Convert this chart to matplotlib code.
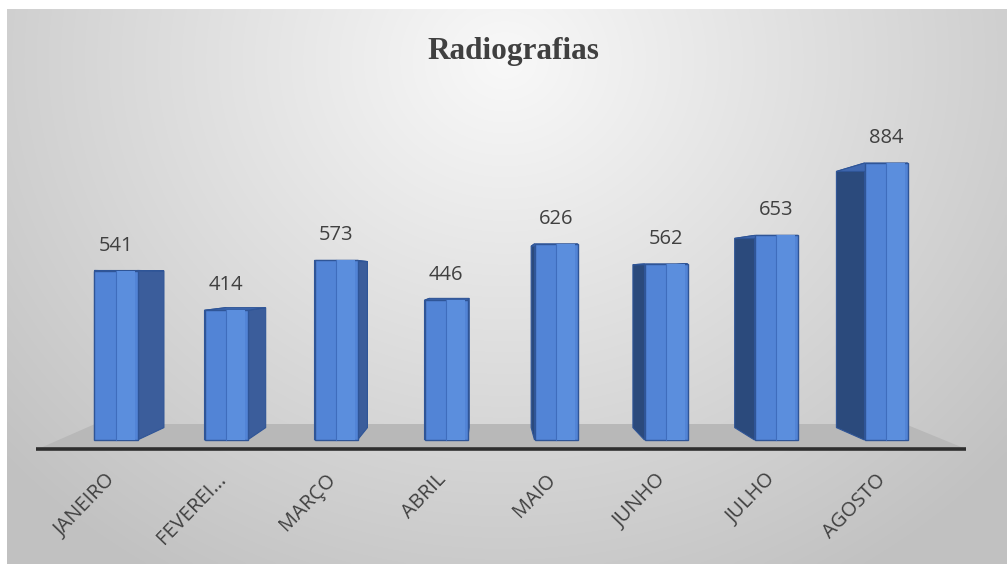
import numpy as np
import matplotlib
matplotlib.use("Agg")
import matplotlib.pyplot as plt
from matplotlib.patches import Polygon, Rectangle

# ---- data ----
categories = ["JANEIRO", "FEVEREI...", "MARÇO", "ABRIL", "MAIO", "JUNHO", "JULHO", "AGOSTO"]
values = [541, 414, 573, 446, 626, 562, 653, 884]
title = "Radiografias"

# ---- layout (pixel geometry of the reference) ----
W, H = 1007, 564
X0, DX = 116.0, 110.0       # pixel x of first bar centre, spacing
BASE, K = 440.0, 0.3133     # pixel y of value 0, pixels per unit
HALF_W = 21.5 / DX          # half front-face width in data units
VP_PX, VP_PY, S = 490.0, 275.0, 0.925


def px2x(px):
    return (px - X0) / DX


def py2v(py):
    return (BASE - py) / K


fig = plt.figure(figsize=(W / 100, H / 100), dpi=100)
fig.patch.set_facecolor("white")
ax = fig.add_axes([0, 0, 1, 1])
ax.set_xlim(px2x(0), px2x(W))
ax.set_ylim(py2v(H), py2v(0))
ax.axis("off")

# ---- background gradient ----
gx, gy = np.meshgrid(np.linspace(7, W, 400), np.linspace(9, H, 240))
d = np.sqrt(((gx - 505) / 620) ** 2 + ((gy - 60) / 560) ** 2)
g = np.clip(0.975 - 0.2 * d, 0.76, 1)
img = np.dstack([g, g, g])
ax.imshow(img, extent=(px2x(7), px2x(W), py2v(H), py2v(9)), aspect="auto",
          zorder=0, interpolation="bilinear")

# ---- floor ----
floor = Polygon([(px2x(38), py2v(449)), (px2x(966), py2v(449)),
                 (px2x(905), py2v(424)), (px2x(95), py2v(424))],
                closed=True, facecolor="#b8b8b8", edgecolor="none", zorder=1)
ax.add_patch(floor)
ax.plot([px2x(36), px2x(966)], [py2v(449), py2v(449)], color="#2e2e2e",
        lw=2.6, solid_capstyle="butt", zorder=2)

vpx, vpv = px2x(VP_PX), py2v(VP_PY)


def back(x, y):
    return (vpx + (x - vpx) * S, vpv + (y - vpv) * S)


edge = "#2f5597"
for i, v in enumerate(values):
    xl, xr = i - HALF_W, i + HALF_W
    fl = [(xl, 0), (xr, 0), (xr, v), (xl, v)]
    bl = [back(*p) for p in fl]
    # left side
    ax.add_patch(Polygon([fl[0], fl[3], bl[3], bl[0]], closed=True,
                         facecolor="#2b4a7c", edgecolor=edge, lw=0.8, zorder=3))
    # right side
    ax.add_patch(Polygon([fl[1], fl[2], bl[2], bl[1]], closed=True,
                         facecolor="#3b5d9b", edgecolor=edge, lw=0.8, zorder=3))
    # top
    ax.add_patch(Polygon([fl[3], fl[2], bl[2], bl[3]], closed=True,
                         facecolor="#3f68b0", edgecolor=edge, lw=0.8, zorder=3))
    # front face
    ax.add_patch(Rectangle((xl, 0), xr - xl, v, facecolor="#5284d6",
                           edgecolor=edge, lw=1.0, zorder=4))
    ax.add_patch(Rectangle((i, 0), xr - i - 0.02, v, facecolor="#5b8edd",
                           edgecolor="none", zorder=4))
    ax.plot([i, i], [0, v], color="#3f6dbd", lw=0.8, zorder=5)
    # value label
    ax.annotate(f"{v}", (i, v), xytext=(0, 18), textcoords="offset points",
                ha="center", va="center", fontsize=14.5, color="#404040",
                family="Open Sans", zorder=6)
    # category label
    ax.text(i - 0.03, py2v(477), categories[i], rotation=46,
            rotation_mode="anchor", ha="right", va="center", fontsize=14.5,
            color="#404040", family="Open Sans", zorder=6)

ax.text(px2x(513), py2v(52), title, ha="center", va="center",
        fontsize=22.5, fontweight="bold", family="Liberation Serif",
        color="#404040", zorder=6)

fig.savefig("out.png", dpi=100, facecolor="white")
